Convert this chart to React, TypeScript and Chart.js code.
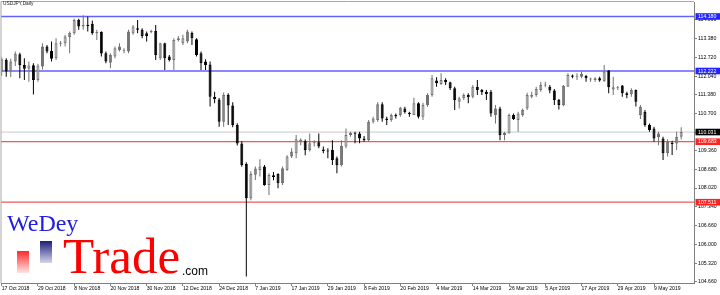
import React, { useEffect, useRef } from "react";
import { Chart, registerables } from "chart.js";

Chart.register(...registerables);

// ---------- data ----------
const tickLabels = [
  "17 Oct 2018", "29 Oct 2018", "8 Nov 2018", "20 Nov 2018", "30 Nov 2018",
  "12 Dec 2018", "24 Dec 2018", "7 Jan 2019", "17 Jan 2019", "29 Jan 2019",
  "8 Feb 2019", "20 Feb 2019", "4 Mar 2019", "14 Mar 2019", "26 Mar 2019",
  "5 Apr 2019", "17 Apr 2019", "29 Apr 2019", "9 May 2019",
];
const barsPerLabel = 8;

const opens = [
  112.22, 112.62, 112.20, 112.56, 112.82, 112.44, 112.30, 112.43, 111.90, 112.38,
  113.10, 112.94, 112.68, 113.20, 113.22, 113.44, 113.58, 114.05, 113.82, 113.88,
  113.92, 113.58, 113.62, 112.86, 112.52, 112.74, 112.98, 112.95, 112.92, 113.58,
  113.76, 113.70, 113.58, 113.62, 113.66, 112.68, 113.22, 112.74, 112.62, 113.34,
  113.22, 113.28, 113.60, 113.36, 112.86, 112.56, 112.46, 111.30, 111.20, 110.40,
  111.36, 110.98, 110.28, 109.62, 108.88, 107.65, 108.50, 108.67, 108.79, 108.13,
  108.48, 108.52, 108.19, 108.67, 109.15, 109.27, 109.70, 109.70, 109.39, 109.63,
  109.66, 109.40, 109.36, 109.39, 109.09, 108.85, 109.51, 109.92, 109.98, 109.98,
  109.80, 109.74, 110.40, 110.46, 111.03, 110.52, 110.46, 110.64, 110.64, 110.88,
  110.72, 110.64, 111.06, 110.58, 111.00, 111.36, 111.88, 111.76, 111.90, 111.82,
  111.60, 111.12, 111.24, 111.36, 111.30, 111.66, 111.54, 111.48, 111.48, 110.64,
  110.88, 109.92, 109.98, 110.64, 110.46, 110.64, 110.88, 111.30, 111.36, 111.54,
  111.70, 111.66, 111.52, 111.18, 111.00, 111.66, 112.06, 112.02, 112.02, 112.04,
  111.92, 111.90, 111.96, 111.85, 112.24, 111.56, 111.60, 111.70, 111.42, 111.40,
  111.54, 110.64, 110.76, 110.28, 110.16, 109.84, 109.80, 109.27, 109.62, 109.62,
  109.86,
];
const highs = [
  112.71, 112.68, 112.66, 112.92, 112.88, 112.68, 112.56, 112.50, 112.48, 113.22,
  113.16, 113.28, 113.40, 113.30, 113.52, 113.64, 114.10, 114.10, 114.22, 114.18,
  114.04, 113.70, 113.65, 112.92, 112.86, 113.10, 113.22, 113.04, 113.70, 113.87,
  114.05, 113.76, 113.64, 113.70, 113.87, 113.24, 113.24, 112.80, 113.40, 113.48,
  113.52, 113.70, 113.64, 113.40, 112.92, 112.64, 112.56, 111.48, 111.25, 111.45,
  111.42, 111.10, 110.35, 109.70, 108.95, 108.62, 108.79, 109.05, 108.85, 108.55,
  108.60, 108.55, 108.79, 109.20, 109.45, 109.92, 109.80, 109.76, 109.98, 109.74,
  109.98, 109.51, 109.45, 109.74, 109.15, 109.74, 110.16, 110.04, 110.04, 110.04,
  109.89, 110.46, 110.58, 111.10, 111.10, 110.58, 110.70, 110.70, 110.94, 110.94,
  110.76, 111.26, 111.10, 111.08, 111.42, 112.08, 112.00, 112.14, 111.96, 111.84,
  111.66, 111.30, 111.42, 111.42, 111.72, 111.90, 111.58, 111.54, 111.54, 111.00,
  110.94, 110.04, 110.70, 110.70, 110.76, 110.88, 111.44, 111.48, 111.66, 111.84,
  111.84, 111.72, 111.58, 111.22, 111.72, 112.14, 112.10, 112.14, 112.20, 112.08,
  111.98, 112.00, 112.02, 112.44, 112.26, 112.02, 111.68, 111.72, 111.48, 111.60,
  111.56, 111.00, 110.82, 110.34, 110.22, 110.04, 109.86, 109.77, 109.72, 110.04,
  110.20,
];
const lows = [
  112.05, 112.02, 112.01, 112.40, 111.96, 111.90, 111.84, 111.38, 111.84, 112.28,
  112.86, 112.56, 112.62, 113.10, 113.10, 112.86, 113.52, 113.70, 113.70, 113.64,
  113.52, 113.34, 112.74, 112.50, 112.32, 112.68, 112.92, 112.86, 112.86, 113.52,
  113.58, 113.40, 113.28, 113.58, 112.62, 112.62, 112.26, 112.56, 112.26, 113.28,
  113.16, 113.22, 113.16, 112.74, 112.26, 112.26, 110.95, 111.06, 110.22, 110.22,
  110.28, 110.20, 109.55, 108.78, 104.84, 107.58, 108.31, 108.43, 108.10, 107.77,
  108.30, 108.01, 108.13, 108.64, 109.10, 109.09, 109.56, 109.20, 109.33, 109.51,
  109.45, 109.27, 109.09, 108.85, 108.55, 108.79, 109.45, 109.86, 109.63, 109.63,
  109.68, 109.68, 110.34, 110.40, 110.40, 110.28, 110.40, 110.52, 110.58, 110.70,
  110.58, 110.64, 110.52, 110.46, 110.94, 111.30, 111.66, 111.72, 111.72, 111.54,
  110.82, 110.88, 111.18, 111.06, 111.24, 111.36, 111.36, 111.18, 110.58, 110.34,
  109.74, 109.74, 109.98, 110.46, 110.04, 110.58, 110.82, 111.24, 111.30, 111.48,
  111.64, 111.42, 111.00, 110.84, 110.96, 111.66, 111.96, 111.90, 111.96, 111.84,
  111.84, 111.84, 111.84, 111.84, 111.42, 111.36, 111.54, 111.30, 111.24, 111.30,
  110.95, 110.50, 110.22, 110.04, 109.68, 109.56, 109.03, 109.15, 109.21, 109.39,
  109.76,
];
const closes = [
  112.64, 112.20, 112.56, 112.84, 112.44, 112.30, 112.42, 111.90, 112.42, 113.10,
  112.92, 112.66, 113.22, 113.22, 113.46, 113.60, 114.05, 113.82, 113.88, 113.84,
  113.58, 113.62, 112.85, 112.56, 112.80, 113.04, 113.10, 112.96, 113.64, 113.82,
  113.70, 113.48, 113.48, 113.64, 112.80, 113.22, 112.68, 112.62, 113.34, 113.40,
  113.40, 113.64, 113.40, 112.80, 112.50, 112.44, 111.30, 111.22, 110.40, 111.36,
  110.98, 110.28, 109.62, 108.85, 107.65, 108.52, 108.72, 108.79, 108.13, 108.49,
  108.42, 108.19, 108.73, 109.15, 109.33, 109.77, 109.76, 109.39, 109.63, 109.65,
  109.51, 109.35, 109.33, 109.03, 108.85, 109.53, 109.92, 110.00, 109.95, 109.80,
  109.74, 110.40, 110.52, 111.03, 110.52, 110.46, 110.64, 110.60, 110.90, 110.74,
  110.68, 111.06, 110.58, 111.00, 111.36, 111.96, 111.78, 111.90, 111.82, 111.60,
  111.18, 111.24, 111.36, 111.28, 111.66, 111.54, 111.46, 111.40, 110.70, 110.88,
  109.92, 110.00, 110.64, 110.50, 110.70, 110.82, 111.36, 111.36, 111.58, 111.72,
  111.74, 111.52, 111.18, 111.00, 111.68, 112.08, 112.02, 112.04, 112.12, 111.96,
  111.92, 111.96, 111.88, 112.20, 111.64, 111.64, 111.62, 111.42, 111.36, 111.54,
  111.12, 110.94, 110.28, 110.10, 109.80, 109.98, 109.27, 109.68, 109.60, 109.86,
  110.03,
];

const yTickValues = [
  114.06, 113.38, 112.72, 112.04, 111.38, 110.7, 110.02, 109.36,
  108.68, 108.02, 107.34, 106.66, 106.0, 105.32, 104.66,
];
const resistanceLevels = [114.18, 112.222];
const supportLevels = [109.683, 107.511];
const lastPrice = 110.031;
const chartTitle = "USDJPY,Daily";

// ---------- styling ----------
const FONT = "'Liberation Sans', Arial, sans-serif";
const BULL_LINE = "#707070";
const BEAR = "#000000";
const AXIS = "#808080";

const levelsPlugin = {
  id: "levels",
  beforeDatasetsDraw(chart: any) {
    const { ctx, chartArea, scales } = chart;
    const y = scales.y;
    ctx.save();
    const line = (v: number, color: string, w: number) => {
      const py = y.getPixelForValue(v);
      ctx.strokeStyle = color;
      ctx.lineWidth = w;
      ctx.beginPath();
      ctx.moveTo(chartArea.left, py);
      ctx.lineTo(chartArea.right, py);
      ctx.stroke();
    };
    line(lastPrice, "#d4d4d4", 1.2);
    resistanceLevels.forEach((v) => line(v, "#6262ff", 1.3));
    supportLevels.forEach((v) => line(v, "#f25858", 1.3));
    ctx.restore();
  },
  afterDraw(chart: any) {
    const { ctx, chartArea, scales, width } = chart;
    const y = scales.y;
    ctx.save();
    ctx.strokeStyle = "#a8a8a8";
    ctx.lineWidth = 1;
    ctx.beginPath();
    ctx.moveTo(1, chartArea.bottom);
    ctx.lineTo(1, 1.5);
    ctx.lineTo(chartArea.right, 1.5);
    ctx.stroke();
    const boxes = [
      ...resistanceLevels.map((v) => ({ v, bg: "#2424ff" })),
      { v: lastPrice, bg: "#000000" },
      ...supportLevels.map((v) => ({ v, bg: "#ff2020" })),
    ];
    ctx.font = `5.2px ${FONT}`;
    ctx.textBaseline = "middle";
    ctx.textAlign = "left";
    boxes.forEach((b) => {
      const py = y.getPixelForValue(b.v);
      ctx.fillStyle = b.bg;
      ctx.fillRect(chartArea.right + 1.5, py - 3.3, width - chartArea.right - 1.5, 6.6);
      ctx.fillStyle = "#ffffff";
      ctx.fillText(b.v.toFixed(3), chartArea.right + 4, py + 0.3);
    });
    ctx.restore();
  },
};

export default function App() {
  const ref = useRef<HTMLCanvasElement>(null);

  useEffect(() => {
    const idx = opens.map((_, i) => i);
    const up = (i: number) => closes[i] >= opens[i];
    const chart = new Chart(ref.current as HTMLCanvasElement, {
      type: "bar",
      data: {
        datasets: [
          {
            data: idx.map((i) => ({ x: i, y: [lows[i], highs[i]] })) as any,
            barThickness: 1,
            grouped: false,
            inflateAmount: 0,
            borderWidth: 0,
            backgroundColor: idx.map((i) => (up(i) ? BULL_LINE : BEAR)),
          } as any,
          {
            data: idx.map((i) => ({ x: i, y: [opens[i], closes[i]] })) as any,
            barThickness: 3,
            grouped: false,
            inflateAmount: 0,
            minBarLength: 1,
            borderWidth: 1,
            borderSkipped: false,
            backgroundColor: idx.map((i) => (up(i) ? "#ffffff" : BEAR)),
            borderColor: idx.map((i) => (up(i) ? BULL_LINE : BEAR)),
          } as any,
        ],
      },
      options: {
        responsive: false,
        devicePixelRatio: 1,
        animation: false,
        layout: { padding: { left: 1, top: 2, right: 0, bottom: 0 } },
        plugins: { legend: { display: false }, tooltip: { enabled: false } },
        scales: {
          x: {
            type: "linear",
            min: -0.155,
            max: 152.83,
            offset: false,
            grid: {
              display: true,
              drawOnChartArea: false,
              drawTicks: true,
              tickLength: 3,
              color: AXIS,
              offset: false,
            },
            border: { display: true, color: AXIS },
            ticks: {
              align: "start",
              autoSkip: false,
              maxRotation: 0,
              padding: 0,
              color: "#000",
              font: { size: 5.1, family: FONT },
              callback: (_v: any, i: number) => tickLabels[i],
            },
            afterBuildTicks: (axis: any) => {
              axis.ticks = tickLabels.map((_, k) => ({ value: k * barsPerLabel }));
            },
            afterFit: (axis: any) => {
              axis.height = 12;
              axis.paddingLeft = 0;
              axis.paddingRight = 0;
            },
          } as any,
          y: {
            type: "linear",
            position: "right",
            min: 104.61,
            max: 114.7,
            grid: {
              display: true,
              drawOnChartArea: false,
              drawTicks: true,
              tickLength: 3,
              color: AXIS,
            },
            border: { display: true, color: AXIS },
            ticks: {
              padding: 1,
              color: "#000",
              font: { size: 5.2, family: FONT },
              callback: (v: any) => Number(v).toFixed(3),
            },
            afterBuildTicks: (axis: any) => {
              axis.ticks = yTickValues.map((v) => ({ value: v }));
            },
            afterFit: (axis: any) => {
              axis.width = 26;
              axis.paddingTop = 0;
              axis.paddingBottom = 0;
            },
          } as any,
        },
      },
      plugins: [levelsPlugin],
    });
    return () => chart.destroy();
  }, []);

  return (
    <div
      style={{
        position: "absolute",
        left: 0,
        top: 0,
        width: 720,
        height: 295,
        background: "#ffffff",
        overflow: "hidden",
      }}
    >
      <canvas ref={ref} width={720} height={295} style={{ display: "block", width: 720, height: 295 }} />
      <div
        style={{
          position: "absolute",
          left: 3,
          top: 1.5,
          fontFamily: FONT,
          fontSize: 4.8,
          lineHeight: 1,
          color: "#202020",
          whiteSpace: "nowrap",
        }}
      >
        {chartTitle}
      </div>
      <div
        style={{
          position: "absolute",
          left: 7,
          top: 211,
          fontFamily: "'Liberation Serif', 'Times New Roman', serif",
          fontSize: 24,
          lineHeight: 1,
          color: "#2020e0",
          whiteSpace: "nowrap",
        }}
      >
        WeDey
      </div>
      <div
        style={{
          position: "absolute",
          left: 17,
          top: 251,
          width: 12,
          height: 22,
          background: "linear-gradient(to bottom, #ff2a2a, #ffe4e4)",
        }}
      />
      <div
        style={{
          position: "absolute",
          left: 40,
          top: 241,
          width: 12,
          height: 22,
          background: "linear-gradient(to bottom, #1e1e78, #d4d4ec)",
        }}
      />
      <div
        style={{
          position: "absolute",
          left: 63,
          top: 231,
          fontFamily: "'Liberation Serif', 'Times New Roman', serif",
          fontSize: 51,
          lineHeight: 1,
          color: "#ff0000",
          whiteSpace: "nowrap",
        }}
      >
        Trade
      </div>
      <div
        style={{
          position: "absolute",
          left: 182,
          top: 265,
          fontFamily: FONT,
          fontSize: 12,
          lineHeight: 1,
          color: "#000000",
          whiteSpace: "nowrap",
        }}
      >
        .com
      </div>
    </div>
  );
}
